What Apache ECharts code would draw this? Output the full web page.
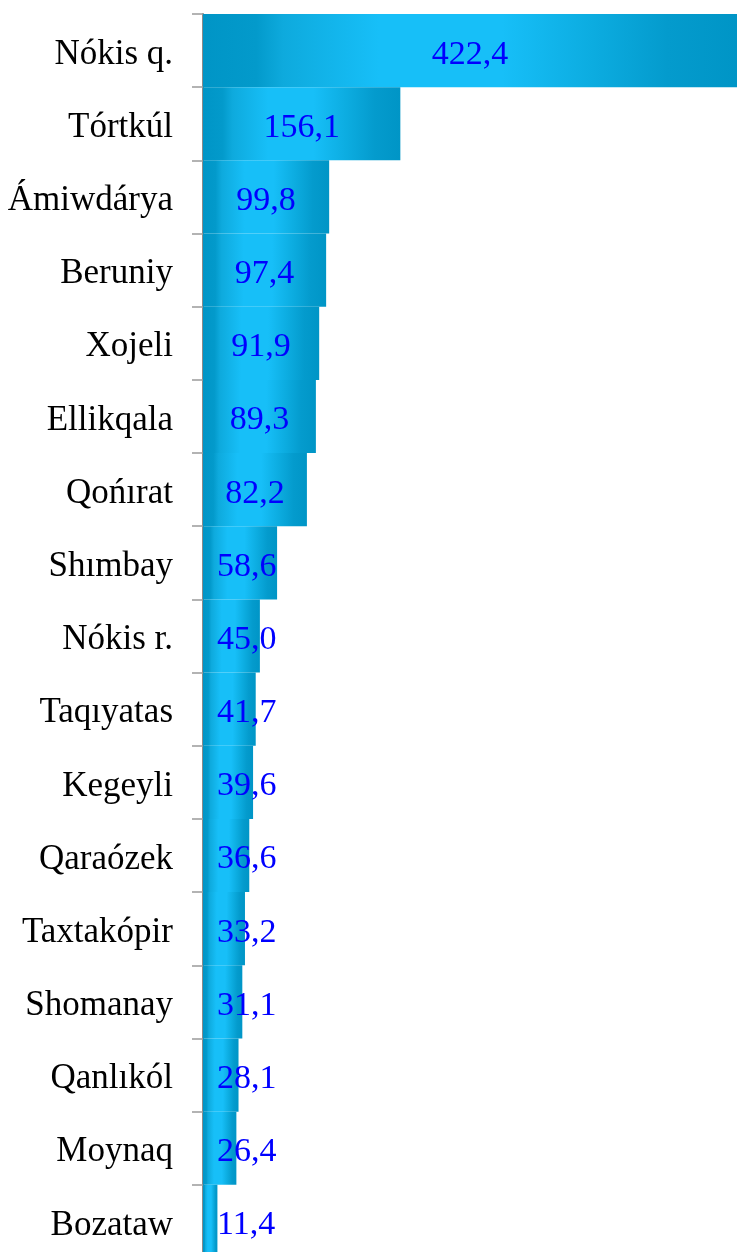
<!DOCTYPE html>
<html>
<head>
<meta charset="utf-8">
<style>
  html, body { margin: 0; padding: 0; background: #fff; }
  #chart { width: 737px; height: 1252px; }
</style>
<script src="https://cdn.jsdelivr.net/npm/echarts@6/dist/echarts.min.js"></script>
</head>
<body>
<div id="chart"></div>
<script>
// Districts, top to bottom
const districts = [
  'Nókis q.', 'Tórtkúl', 'Ámiwdárya', 'Beruniy', 'Xojeli', 'Ellikqala',
  'Qońırat', 'Shımbay', 'Nókis r.', 'Taqıyatas', 'Kegeyli', 'Qaraózek',
  'Taxtakópir', 'Shomanay', 'Qanlıkól', 'Moynaq', 'Bozataw'
];
const values = [
  422.4, 156.1, 99.8, 97.4, 91.9, 89.3,
  82.2, 58.6, 45.0, 41.7, 39.6, 36.6,
  33.2, 31.1, 28.1, 26.4, 11.4
];

const serif = "'Liberation Serif', 'Times New Roman', serif";

// Cylinder-like shading across each bar's length
const barFill = new echarts.graphic.LinearGradient(0, 0, 1, 0, [
  { offset: 0, color: '#0095c6' },
  { offset: 0.1, color: '#039acb' },
  { offset: 0.15, color: '#0eaadd' },
  { offset: 0.33, color: '#17bff8' },
  { offset: 0.56, color: '#17bff8' },
  { offset: 0.73, color: '#0cace0' },
  { offset: 0.87, color: '#049bcd' },
  { offset: 1, color: '#0095c6' }
]);

const chart = echarts.init(document.getElementById('chart'), null, { renderer: 'canvas' });

chart.setOption({
  animation: false,
  backgroundColor: '#ffffff',
  // the last band runs slightly past the bottom edge of the canvas
  grid: {
    left: 203, top: 14, width: 534, height: 1244,
    containLabel: false,
    outerBoundsMode: 'none'
  },
  xAxis: {
    type: 'value',
    min: 0,
    max: 422.4,
    show: false,
    splitLine: { show: false }
  },
  yAxis: {
    type: 'category',
    inverse: true,
    data: districts,
    axisLine: { show: true, lineStyle: { color: '#8a8a8a', width: 2 } },
    axisTick: { show: true, length: 11, lineStyle: { color: '#9a9a9a', width: 1.5 } },
    axisLabel: {
      margin: 30,
      formatter: v => '{n|' + v + '}',
      rich: {
        n: {
          color: '#000000',
          fontFamily: serif,
          fontSize: 35,
          padding: [8, 0, 0, 0]
        }
      }
    }
  },
  series: [{
    type: 'bar',
    data: values,
    barCategoryGap: 0,
    barWidth: '100%',
    itemStyle: { color: barFill },
    label: {
      show: true,
      position: 'inside',
      color: '#0000ff',
      fontFamily: serif,
      fontSize: 34,
      formatter: p => p.value.toFixed(1).replace('.', ',')
    },
    // keep the value centred on its bar, but never closer than 14px to the bar's base
    labelLayout: function (p) {
      const r = p.rect, lr = p.labelRect;
      const left = Math.max(r.x + r.width / 2 - lr.width / 2, r.x + 14);
      return { x: left, y: r.y + r.height / 2 + 4, align: 'left', verticalAlign: 'middle' };
    }
  }]
});
</script>
</body>
</html>
